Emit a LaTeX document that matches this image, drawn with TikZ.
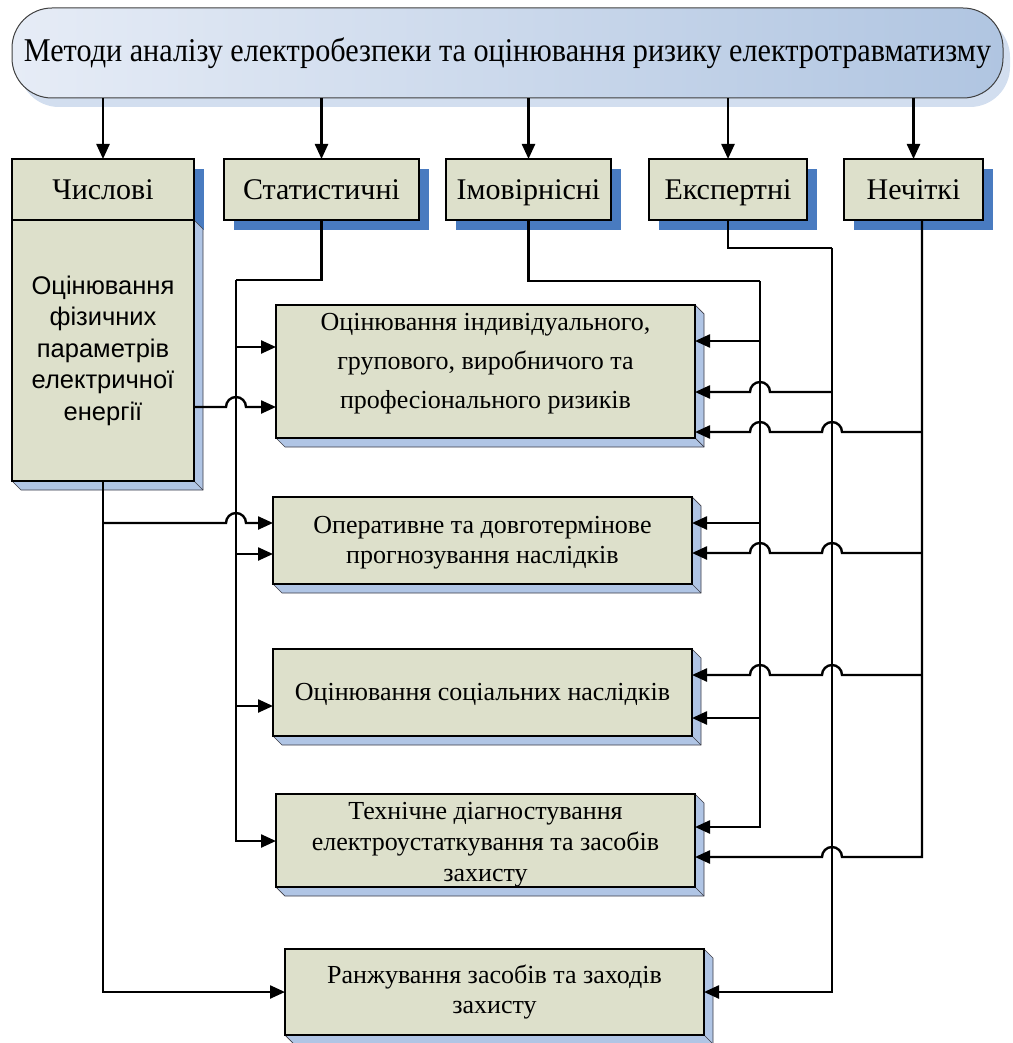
\documentclass[tikz,border=0pt]{standalone}
\usepackage{fontspec}
\setmainfont{Liberation Serif}
\newfontfamily\arialf{Liberation Sans}
\usetikzlibrary{arrows.meta,calc,backgrounds}
\definecolor{boxfill}{RGB}{221,224,203}
\definecolor{shadowdark}{RGB}{73,123,192}
\definecolor{extfill}{RGB}{176,197,229}
\definecolor{extline}{RGB}{60,60,70}
\definecolor{bannerL}{RGB}{230,236,246}
\definecolor{bannerR}{RGB}{176,197,225}
\definecolor{bannershadow}{RGB}{210,222,239}
\tikzset{
  banner/.style={draw=black!75, line width=1pt, rounded corners=40pt, left color=bannerL, right color=bannerR,
    minimum width=991pt, minimum height=90pt, inner sep=0pt, outer sep=0pt},
  catbox/.style={draw, line width=2.6pt, fill=boxfill, inner sep=0pt, outer sep=0pt, minimum height=61pt,
    font=\fontsize{30}{34}\selectfont, text height=19.8pt, text depth=0pt},
  mainbox/.style={draw, line width=2.6pt, fill=boxfill, inner sep=0pt, outer sep=0pt, align=center},
  boxtext/.style={align=center, inner sep=0pt},
  conn/.style={line width=2.4pt},
  arr/.style={conn, -{Triangle[length=15pt,width=13pt]}},
}
\newcommand\darkshadow[1]{%
  \begin{pgfonlayer}{background}
    \fill[shadowdark] ($(#1.north west)+(10,10)$) rectangle ($(#1.south east)+(10,10)$);
  \end{pgfonlayer}}
\newcommand\extrude[1]{%
  \begin{pgfonlayer}{background}
    \filldraw[fill=extfill, draw=extline, line width=0.7pt] (#1.north east) -- ++(9,9) -- ($(#1.south east)+(9,9)$)
      -- ($(#1.south west)+(9,9)$) -- (#1.south west) -- cycle;
    \draw[extline, line width=0.7pt] (#1.south east) -- ++(9,9);
  \end{pgfonlayer}}
\begin{document}
\begin{tikzpicture}[x=1pt,y=-1pt]
\useasboundingbox (0,0) rectangle (1012,1043);

% banner
\node[banner] (top) at (507.5,53) {\scalebox{1}[1.1]{\fontsize{30.2}{36}\selectfont Методи аналізу електробезпеки та оцінювання ризику електротравматизму}};
\begin{pgfonlayer}{background}
  \fill[bannershadow, rounded corners=40pt] ($(top.north west)+(7,9)$) rectangle ($(top.south east)+(7,9)$);
\end{pgfonlayer}

% category boxes
\node[catbox, minimum width=182pt] (num) at (103,189.5) {Числові};
\node[catbox, minimum width=195pt] (stat) at (321.5,189.5) {Статистичні};
\node[catbox, minimum width=165pt] (prob) at (528.5,189.5) {Імовірнісні};
\node[catbox, minimum width=158pt] (exp) at (728,189.5) {Експертні};
\node[catbox, minimum width=139pt] (fuzzy) at (913.5,189.5) {Нечіткі};
\darkshadow{num}\darkshadow{stat}\darkshadow{prob}\darkshadow{exp}\darkshadow{fuzzy}

\node[mainbox, minimum width=182pt, minimum height=261pt, font=\arialf\fontsize{25.5}{31.5}\selectfont] (numlow) at (103,350.5)
  {Оцінювання\\фізичних\\параметрів\\електричної\\енергії};
\extrude{numlow}

% main boxes
\node[mainbox, minimum width=419pt, minimum height=133pt,
  label={[boxtext, font=\fontsize{26}{39}\selectfont, yshift=8pt]center:Оцінювання індивідуального,\\групового, виробничого та\\професіонального ризиків}] (b1) at (485.5,371.5) {};
\node[mainbox, minimum width=419pt, minimum height=87pt,
  label={[boxtext, font=\fontsize{26}{30}\selectfont, yshift=-2.5pt]center:Оперативне та довготермінове\\прогнозування наслідків}] (b2) at (482.5,540.5) {};
\node[mainbox, minimum width=419pt, minimum height=87pt,
  label={[boxtext, font=\fontsize{26}{30}\selectfont, yshift=-2pt]center:Оцінювання соціальних наслідків}] (b3) at (482.5,692.5) {};
\node[mainbox, minimum width=419pt, minimum height=93pt,
  label={[boxtext, font=\fontsize{26}{31}\selectfont, yshift=-4.5pt]center:Технічне діагностування\\електроустаткування та засобів\\захисту}] (b4) at (485.5,840.5) {};
\node[mainbox, minimum width=419pt, minimum height=86pt,
  label={[boxtext, font=\fontsize{26}{30}\selectfont]center:Ранжування засобів та заходів\\захисту}] (b5) at (494.5,992) {};
\extrude{b1}\extrude{b2}\extrude{b3}\extrude{b4}\extrude{b5}

% banner arrows
\foreach \n in {num,stat,prob,exp,fuzzy}
  \draw[arr] (top.south -| \n.north) -- (\n.north);

% bus coordinates
\coordinate (sbus) at (236,280);
\coordinate (pbus) at (760,281);
\coordinate (ebus) at (832,248);
\coordinate (fbus) at ($(fuzzy.south)+(8.5,0)$);

% statistical
\draw[conn] (stat.south) |- (sbus);
\draw[arr] (sbus) |- (b4.west |- 0,841);
\draw[arr] (sbus |- 0,347) -- (b1.west |- 0,347);
\draw[arr] (sbus |- 0,554) -- (b2.west |- 0,554);
\draw[arr] (sbus |- 0,706) -- (b3.west |- 0,706);

% probabilistic
\draw[conn] (prob.south) |- (pbus);
\draw[arr] (pbus) |- (b4.east |- 0,827);
\draw[arr] (pbus |- 0,341) -- (b1.east |- 0,341);
\draw[arr] (pbus |- 0,523) -- (b2.east |- 0,523);
\draw[arr] (pbus |- 0,718) -- (b3.east |- 0,718);

% expert
\draw[conn] (exp.south) |- (ebus);
\draw[arr] (ebus) |- (b5.east);
\draw[arr] (ebus |- 0,392) -- ($(pbus |- 0,392)+(10,0)$) arc[start angle=0,end angle=180,radius=10pt] -- (b1.east |- 0,392);

% fuzzy
\draw[arr] (fbus) |- ($(ebus |- 0,857)+(10,0)$) arc[start angle=0,end angle=180,radius=10pt] -- (b4.east |- 0,857);
\foreach \yy/\bb in {432/b1,553/b2,675/b3}
  \draw[arr] (fbus |- 0,\yy) -- ($(ebus |- 0,\yy)+(10,0)$) arc[start angle=0,end angle=180,radius=10pt]
    -- ($(pbus |- 0,\yy)+(10,0)$) arc[start angle=0,end angle=180,radius=10pt] -- (\bb.east |- 0,\yy);

% numerical
\draw[arr] (numlow.south) |- (b5.west);
\draw[arr] (numlow.south |- 0,523) -- ($(sbus |- 0,523)+(-10,0)$) arc[start angle=180,end angle=0,radius=10pt] -- (b2.west |- 0,523);
\draw[arr] (numlow.east |- 0,407) -- ($(sbus |- 0,407)+(-10,0)$) arc[start angle=180,end angle=0,radius=10pt] -- (b1.west |- 0,407);
\end{tikzpicture}
\end{document}
